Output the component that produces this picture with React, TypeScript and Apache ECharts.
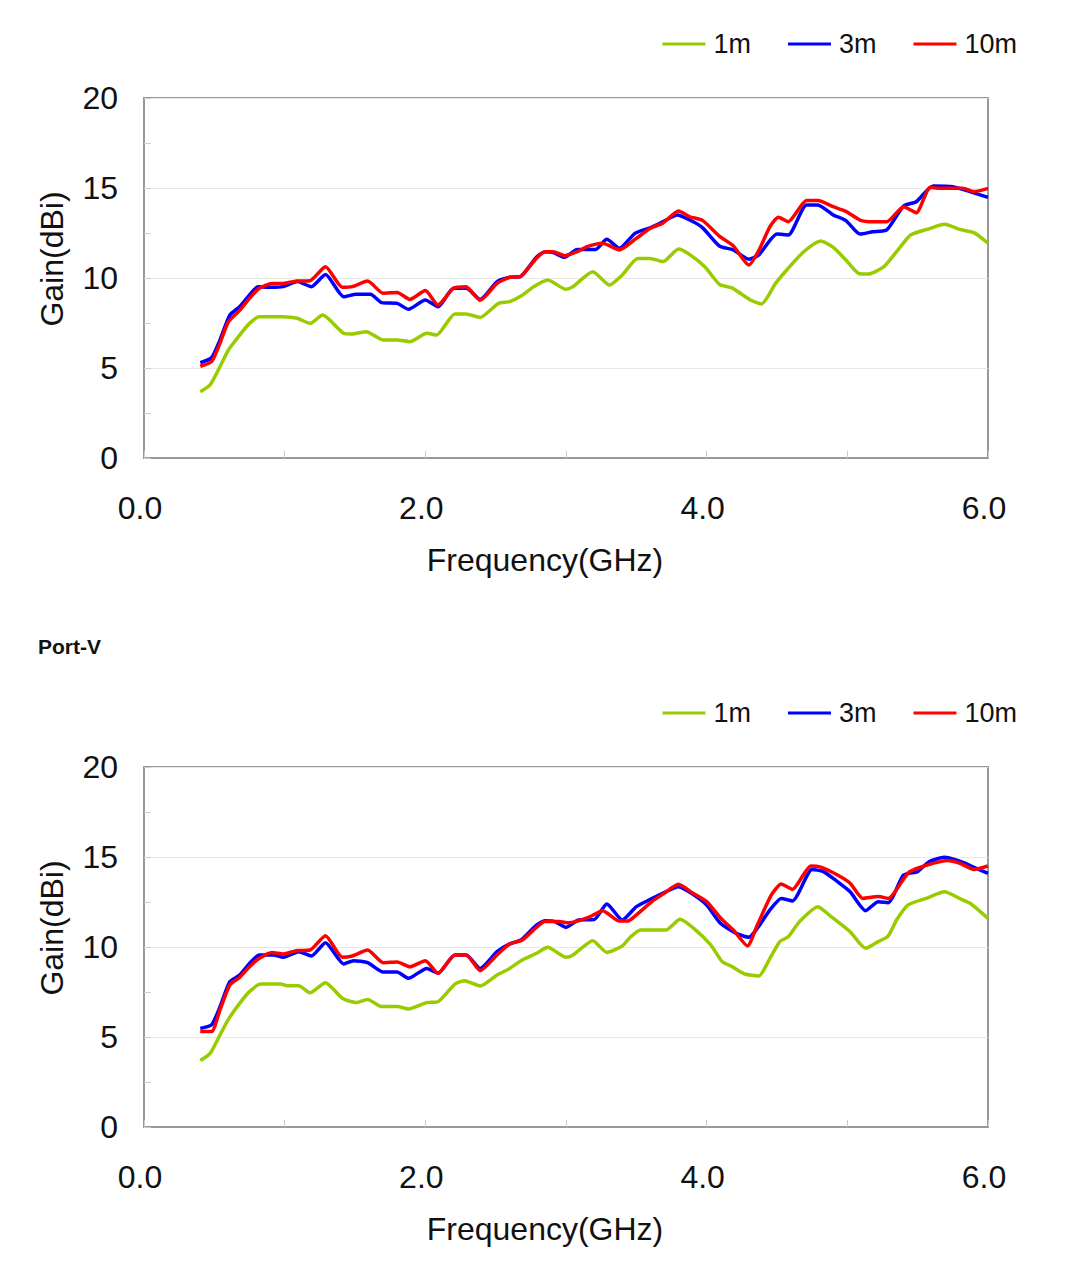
import React, { useEffect, useRef } from "react";
import * as echarts from "echarts";

// ---- Data (frequency GHz, gain dBi) ----
const SERIES_NAMES = ["1m", "3m", "10m"];
const SERIES_COLORS = ["#99CC00", "#0000FF", "#FF0000"];
const X_TICK_LABELS = ["0.0", "2.0", "4.0", "6.0"];

const TOP_1M: [number, number][] = [
  [0.40, 3.68], [0.47, 4.06], [0.54, 5.07], [0.60, 6.0], [0.68, 6.83], [0.75, 7.48], [0.82, 7.85],
  [0.99, 7.85], [1.09, 7.76], [1.18, 7.48], [1.27, 7.94], [1.42, 6.93], [1.48, 6.89], [1.58, 7.02],
  [1.70, 6.56], [1.80, 6.56], [1.89, 6.46], [2.01, 6.93], [2.08, 6.83], [2.21, 8.0], [2.29, 8.0],
  [2.39, 7.81], [2.52, 8.59], [2.60, 8.69], [2.68, 9.0], [2.77, 9.52], [2.87, 9.89], [3.00, 9.37],
  [3.05, 9.52], [3.19, 10.35], [3.31, 9.61], [3.40, 10.17], [3.51, 11.09], [3.60, 11.09], [3.69, 10.91],
  [3.80, 11.61], [3.88, 11.3], [3.99, 10.6], [4.09, 9.65], [4.18, 9.45], [4.31, 8.78], [4.39, 8.56],
  [4.49, 9.7], [4.58, 10.54], [4.69, 11.46], [4.81, 12.06], [4.90, 11.7], [4.99, 11.0], [5.08, 10.26],
  [5.15, 10.22], [5.26, 10.63], [5.35, 11.46], [5.45, 12.39], [5.59, 12.76], [5.69, 12.98], [5.80, 12.7],
  [5.90, 12.52], [6.00, 11.93],
];

const TOP_3M: [number, number][] = [
  [0.40, 5.3], [0.48, 5.57], [0.54, 6.56], [0.61, 7.94], [0.68, 8.4], [0.74, 8.96], [0.81, 9.52],
  [0.90, 9.48], [0.99, 9.52], [1.09, 9.8], [1.19, 9.52], [1.29, 10.2], [1.42, 8.96], [1.51, 9.1],
  [1.61, 9.1], [1.69, 8.63], [1.80, 8.59], [1.88, 8.26], [2.00, 8.78], [2.09, 8.4], [2.20, 9.43],
  [2.29, 9.43], [2.39, 8.81], [2.51, 9.8], [2.60, 10.04], [2.68, 10.1], [2.79, 11.15], [2.85, 11.46],
  [2.91, 11.41], [2.99, 11.15], [3.08, 11.59], [3.21, 11.59], [3.29, 12.15], [3.38, 11.65], [3.49, 12.48],
  [3.60, 12.8], [3.69, 13.13], [3.79, 13.5], [3.88, 13.22], [3.97, 12.8], [4.09, 11.78], [4.19, 11.56],
  [4.30, 11.04], [4.37, 11.28], [4.50, 12.44], [4.58, 12.39], [4.71, 14.06], [4.79, 14.06], [4.90, 13.5],
  [4.99, 13.19], [5.09, 12.44], [5.18, 12.57], [5.28, 12.67], [5.40, 14.0], [5.49, 14.24], [5.61, 15.11],
  [5.75, 15.07], [5.87, 14.8], [6.00, 14.48],
];

const TOP_10M: [number, number][] = [
  [0.40, 5.1], [0.48, 5.35], [0.54, 6.37], [0.60, 7.57], [0.68, 8.2], [0.75, 8.87], [0.82, 9.43],
  [0.91, 9.7], [0.99, 9.7], [1.09, 9.83], [1.18, 9.85], [1.29, 10.63], [1.41, 9.48], [1.48, 9.52],
  [1.59, 9.83], [1.70, 9.15], [1.80, 9.2], [1.89, 8.81], [2.00, 9.3], [2.09, 8.5], [2.20, 9.43],
  [2.29, 9.52], [2.39, 8.76], [2.51, 9.7], [2.60, 10.04], [2.68, 10.1], [2.79, 11.1], [2.85, 11.46],
  [2.91, 11.46], [2.99, 11.24], [3.08, 11.46], [3.15, 11.74], [3.26, 11.93], [3.38, 11.56], [3.50, 12.2],
  [3.60, 12.76], [3.69, 13.06], [3.80, 13.72], [3.88, 13.4], [3.97, 13.2], [4.09, 12.33], [4.19, 11.78],
  [4.30, 10.72], [4.37, 11.52], [4.45, 12.85], [4.51, 13.37], [4.58, 13.13], [4.71, 14.3], [4.79, 14.3],
  [4.90, 13.96], [4.99, 13.7], [5.09, 13.22], [5.18, 13.13], [5.28, 13.13], [5.40, 13.96], [5.49, 13.63],
  [5.59, 15.04], [5.66, 14.98], [5.82, 14.98], [5.90, 14.8], [6.00, 14.98],
];

const BOT_1M: [number, number][] = [
  [0.40, 3.69], [0.47, 4.09], [0.54, 5.11], [0.60, 5.98], [0.68, 6.87], [0.75, 7.52], [0.83, 7.94],
  [0.97, 7.94], [1.02, 7.85], [1.10, 7.85], [1.18, 7.46], [1.29, 8.02], [1.41, 7.15], [1.51, 6.91],
  [1.59, 7.09], [1.69, 6.69], [1.80, 6.69], [1.88, 6.56], [2.01, 6.91], [2.09, 6.96], [2.21, 7.94],
  [2.28, 8.13], [2.39, 7.83], [2.51, 8.44], [2.60, 8.81], [2.68, 9.24], [2.79, 9.65], [2.87, 9.98],
  [3.00, 9.43], [3.05, 9.56], [3.19, 10.35], [3.29, 9.7], [3.40, 10.06], [3.46, 10.57], [3.53, 10.94],
  [3.71, 10.94], [3.81, 11.54], [3.90, 11.09], [4.03, 10.11], [4.11, 9.19], [4.18, 8.91], [4.27, 8.5],
  [4.37, 8.39], [4.45, 9.37], [4.52, 10.3], [4.58, 10.57], [4.66, 11.41], [4.79, 12.24], [4.88, 11.72],
  [5.02, 10.85], [5.13, 9.93], [5.22, 10.3], [5.29, 10.61], [5.35, 11.5], [5.43, 12.33], [5.56, 12.7],
  [5.69, 13.07], [5.81, 12.65], [5.88, 12.39], [6.00, 11.59],
];

const BOT_3M: [number, number][] = [
  [0.40, 5.48], [0.48, 5.67], [0.54, 6.67], [0.61, 8.07], [0.68, 8.44], [0.75, 9.09], [0.82, 9.56],
  [0.92, 9.56], [0.99, 9.43], [1.10, 9.74], [1.19, 9.5], [1.29, 10.24], [1.42, 9.06], [1.49, 9.24],
  [1.59, 9.13], [1.70, 8.61], [1.80, 8.61], [1.88, 8.26], [2.01, 8.81], [2.09, 8.54], [2.21, 9.56],
  [2.29, 9.56], [2.39, 8.81], [2.51, 9.74], [2.60, 10.17], [2.68, 10.39], [2.79, 11.22], [2.85, 11.46],
  [2.92, 11.41], [3.00, 11.09], [3.09, 11.5], [3.20, 11.52], [3.29, 12.39], [3.40, 11.5], [3.50, 12.24],
  [3.60, 12.65], [3.69, 13.0], [3.80, 13.35], [3.90, 12.94], [4.00, 12.33], [4.10, 11.3], [4.21, 10.76],
  [4.30, 10.54], [4.36, 11.04], [4.45, 12.06], [4.53, 12.7], [4.61, 12.56], [4.75, 14.31], [4.83, 14.19],
  [4.93, 13.63], [5.02, 13.07], [5.13, 12.02], [5.22, 12.52], [5.29, 12.46], [5.40, 14.0], [5.50, 14.19],
  [5.58, 14.74], [5.69, 14.98], [5.81, 14.74], [5.88, 14.5], [6.00, 14.09],
];

const BOT_10M: [number, number][] = [
  [0.40, 5.3], [0.48, 5.3], [0.54, 6.5], [0.61, 7.89], [0.68, 8.31], [0.75, 8.9], [0.82, 9.37],
  [0.91, 9.7], [0.99, 9.61], [1.09, 9.8], [1.18, 9.83], [1.29, 10.63], [1.41, 9.43], [1.48, 9.5],
  [1.59, 9.83], [1.70, 9.13], [1.80, 9.17], [1.89, 8.9], [2.00, 9.24], [2.09, 8.54], [2.21, 9.56],
  [2.29, 9.56], [2.39, 8.69], [2.51, 9.56], [2.60, 10.17], [2.69, 10.39], [2.79, 11.09], [2.85, 11.41],
  [2.95, 11.41], [3.02, 11.35], [3.16, 11.65], [3.26, 12.02], [3.38, 11.44], [3.44, 11.44], [3.50, 11.78],
  [3.61, 12.52], [3.69, 12.94], [3.80, 13.48], [3.90, 13.0], [4.00, 12.52], [4.10, 11.6], [4.19, 10.94],
  [4.29, 10.06], [4.36, 11.22], [4.46, 12.89], [4.53, 13.5], [4.61, 13.2], [4.74, 14.5], [4.81, 14.44],
  [4.93, 14.0], [5.02, 13.54], [5.11, 12.7], [5.22, 12.8], [5.29, 12.7], [5.43, 14.09], [5.52, 14.43],
  [5.71, 14.8], [5.80, 14.65], [5.90, 14.31], [6.00, 14.5],
];

const PANELS = [
  { data: [TOP_1M, TOP_3M, TOP_10M] },
  { data: [BOT_1M, BOT_3M, BOT_10M] },
];

const FONT = "'Liberation Sans', Arial, sans-serif";
const GRID_TOPS = [98, 767];
const LEGEND_TOPS = [29, 698];

export default function App() {
  const ref = useRef<HTMLDivElement>(null);

  useEffect(() => {
    if (!ref.current) return;
    const chart = echarts.init(ref.current, undefined, { renderer: "svg" });

    const grid = GRID_TOPS.map((top) => ({
      left: 144,
      top,
      width: 844,
      height: 360,
      show: true,
      borderColor: "#999",
      borderWidth: 2,
      backgroundColor: "transparent",
    }));

    const xAxis = GRID_TOPS.map((_, i) => ({
      type: "value",
      gridIndex: i,
      min: 0,
      max: 6,
      interval: 1,
      axisLine: { show: true, lineStyle: { color: "#999", width: 2 } },
      axisTick: { show: true, inside: true, length: 7, lineStyle: { color: "#ccc", width: 1 } },
      axisLabel: {
        margin: 34,
        fontSize: 32,
        color: "#111",
        fontFamily: FONT,
        padding: [0, 8, 0, 0],
        formatter: (v: number) => (v % 2 === 0 ? X_TICK_LABELS[v / 2] : ""),
      },
      splitLine: { show: false },
      name: "Frequency(GHz)",
      nameLocation: "middle",
      nameGap: 86,
      nameTextStyle: { fontSize: 32, color: "#111", fontFamily: FONT, padding: [0, 42, 0, 0] },
    }));

    const yAxis = GRID_TOPS.map((_, i) => ({
      type: "value",
      gridIndex: i,
      min: 0,
      max: 20,
      interval: 5,
      axisLine: { show: true, lineStyle: { color: "#999", width: 2 } },
      axisTick: { show: true, inside: true, length: 7, lineStyle: { color: "#ccc", width: 1 } },
      minorTick: { show: true, splitNumber: 2, length: 7, lineStyle: { color: "#ccc", width: 1 } },
      splitLine: { show: true, lineStyle: { color: "#e8e8e8", width: 1 } },
      axisLabel: { margin: 26, fontSize: 32, color: "#111", fontFamily: FONT },
      name: "Gain(dBi)",
      nameLocation: "middle",
      nameRotate: 90,
      nameGap: 76,
      nameTextStyle: { fontSize: 32, color: "#111", fontFamily: FONT, padding: [0, 0, 0, 38] },
    }));

    const series: any[] = [];
    PANELS.forEach((panel, pi) => {
      panel.data.forEach((d, si) => {
        series.push({
          type: "line",
          name: SERIES_NAMES[si],
          xAxisIndex: pi,
          yAxisIndex: pi,
          data: d,
          showSymbol: false,
          symbol: "none",
          smooth: 0.2,
          color: SERIES_COLORS[si],
          lineStyle: { color: SERIES_COLORS[si], width: 3.5 },
          itemStyle: { color: SERIES_COLORS[si] },
          z: 2 + si,
        });
      });
    });

    const legend = LEGEND_TOPS.map((top) => ({
      data: SERIES_NAMES,
      right: 57,
      top,
      orient: "horizontal",
      icon: "rect",
      itemWidth: 43,
      itemHeight: 3,
      itemGap: 37,
      padding: 0,
      textStyle: {
        fontSize: 27,
        lineHeight: 30,
        color: "#111",
        fontFamily: FONT,
        padding: [0, 0, 0, 3],
      },
    }));

    chart.setOption({
      animation: false,
      backgroundColor: "#ffffff",
      textStyle: { fontFamily: FONT },
      grid,
      xAxis,
      yAxis,
      legend,
      series,
      graphic: [
        {
          type: "text",
          left: 38,
          top: 636,
          style: { text: "Port-V", fontSize: 21, fontWeight: "bold", fill: "#111", fontFamily: FONT },
        },
      ],
    });

    return () => chart.dispose();
  }, []);

  return (
    <div
      ref={ref}
      style={{ position: "fixed", left: 0, top: 0, width: 1074, height: 1280, background: "#fff" }}
    />
  );
}
